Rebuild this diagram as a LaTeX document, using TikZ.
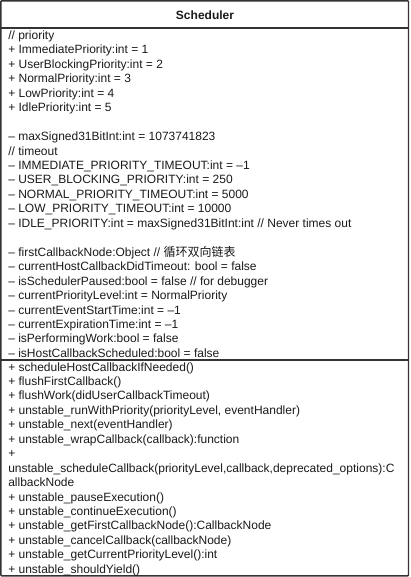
\documentclass[tikz,border=0pt]{standalone}
\usepackage{fontspec}
\setmainfont{Liberation Sans}
\newfontfamily\cjk{Noto Sans CJK SC}
\definecolor{umlline}{HTML}{333333}
\definecolor{umltext}{HTML}{1A1A1A}
\tikzset{box/.style   = {draw=umlline, line width=1.1pt, rounded corners=0.6pt},
           sep/.style   = {draw=umlline, line width=1.1pt},
           ttl/.style   = {inner sep=0pt, font=\fontsize{9}{10}\selectfont\bfseries, text=umltext},
           fld/.style   = {anchor=base west, inner sep=0pt, font=\fontsize{9}{10}\selectfont, text=umltext}}

\begin{document}
\begin{tikzpicture}[x=0.75pt, y=-0.75pt]
    \useasboundingbox (0,0) rectangle (410,577);
    \coordinate (nw) at (0.8,0.8);
    \coordinate (se) at (408.5,575.8);
    \draw[box] (nw) rectangle (se);
    \draw[sep] (nw |- 0,28) -- (se |- 0,28);
    \draw[sep] (nw |- 0,360) -- (se |- 0,360);
    \node[ttl] (name) at (205,15) {Scheduler};
    % attributes
    \node[fld] (a1)  at (8,39.5)   {// priority};
    \node[fld] (a2)  at (8,53.95)  {+ ImmediatePriority:int = 1};
    \node[fld] (a3)  at (8,68.4)   {+ UserBlockingPriority:int = 2};
    \node[fld] (a4)  at (8,82.85)  {+ NormalPriority:int = 3};
    \node[fld] (a5)  at (8,97.3)   {+ LowPriority:int = 4};
    \node[fld] (a6)  at (8,111.75) {+ IdlePriority:int = 5};
    \node[fld] (a8)  at (8,140.65) {– maxSigned31BitInt:int = 1073741823};
    \node[fld] (a9)  at (8,155.1)  {// timeout};
    \node[fld] (a10) at (8,169.55) {– IMMEDIATE\_PRIORITY\_TIMEOUT:int = –1};
    \node[fld] (a11) at (8,184.0)  {– USER\_BLOCKING\_PRIORITY:int = 250};
    \node[fld] (a12) at (8,198.45) {– NORMAL\_PRIORITY\_TIMEOUT:int = 5000};
    \node[fld] (a13) at (8,212.9)  {– LOW\_PRIORITY\_TIMEOUT:int = 10000};
    \node[fld] (a14) at (8,227.35) {– IDLE\_PRIORITY:int = maxSigned31BitInt:int // Never times out};
    \node[fld] (a16) at (8,256.25) {– firstCallbackNode:Object // {\cjk 循环双向链表}};
    \node[fld] (a17) at (8,270.7)  {– currentHostCallbackDidTimeout: bool = false};
    \node[fld] (a18) at (8,285.15) {– isSchedulerPaused:bool = false // for debugger};
    \node[fld] (a19) at (8,299.6)  {– currentPriorityLevel:int = NormalPriority};
    \node[fld] (a20) at (8,314.05) {– currentEventStartTime:int = –1};
    \node[fld] (a21) at (8,328.5)  {– currentExpirationTime:int = –1};
    \node[fld] (a22) at (8,342.95) {– isPerformingWork:bool = false};
    \node[fld] (a23) at (8,357.4)  {– isHostCallbackScheduled:bool = false};
    % methods
    \node[fld] (m1)  at (8,371)    {+ scheduleHostCallbackIfNeeded()};
    \node[fld] (m2)  at (8,385.45) {+ flushFirstCallback()};
    \node[fld] (m3)  at (8,399.9)  {+ flushWork(didUserCallbackTimeout)};
    \node[fld] (m4)  at (8,414.35) {+ unstable\_runWithPriority(priorityLevel, eventHandler)};
    \node[fld] (m5)  at (8,428.8)  {+ unstable\_next(eventHandler)};
    \node[fld] (m6)  at (8,443.25) {+ unstable\_wrapCallback(callback):function};
    \node[fld] (m7)  at (8,457.7)  {+};
    \node[fld] (m8)  at (8,472.15) {unstable\_scheduleCallback(priorityLevel,callback,deprecated\_options):C};
    \node[fld] (m9)  at (8,486.6)  {allbackNode};
    \node[fld] (m10) at (8,501.05) {+ unstable\_pauseExecution()};
    \node[fld] (m11) at (8,515.5)  {+ unstable\_continueExecution()};
    \node[fld] (m12) at (8,529.95) {+ unstable\_getFirstCallbackNode():CallbackNode};
    \node[fld] (m13) at (8,544.4)  {+ unstable\_cancelCallback(callbackNode)};
    \node[fld] (m14) at (8,558.85) {+ unstable\_getCurrentPriorityLevel():int};
    \node[fld] (m15) at (8,573.3)  {+ unstable\_shouldYield()};
\end{tikzpicture}
\end{document}
